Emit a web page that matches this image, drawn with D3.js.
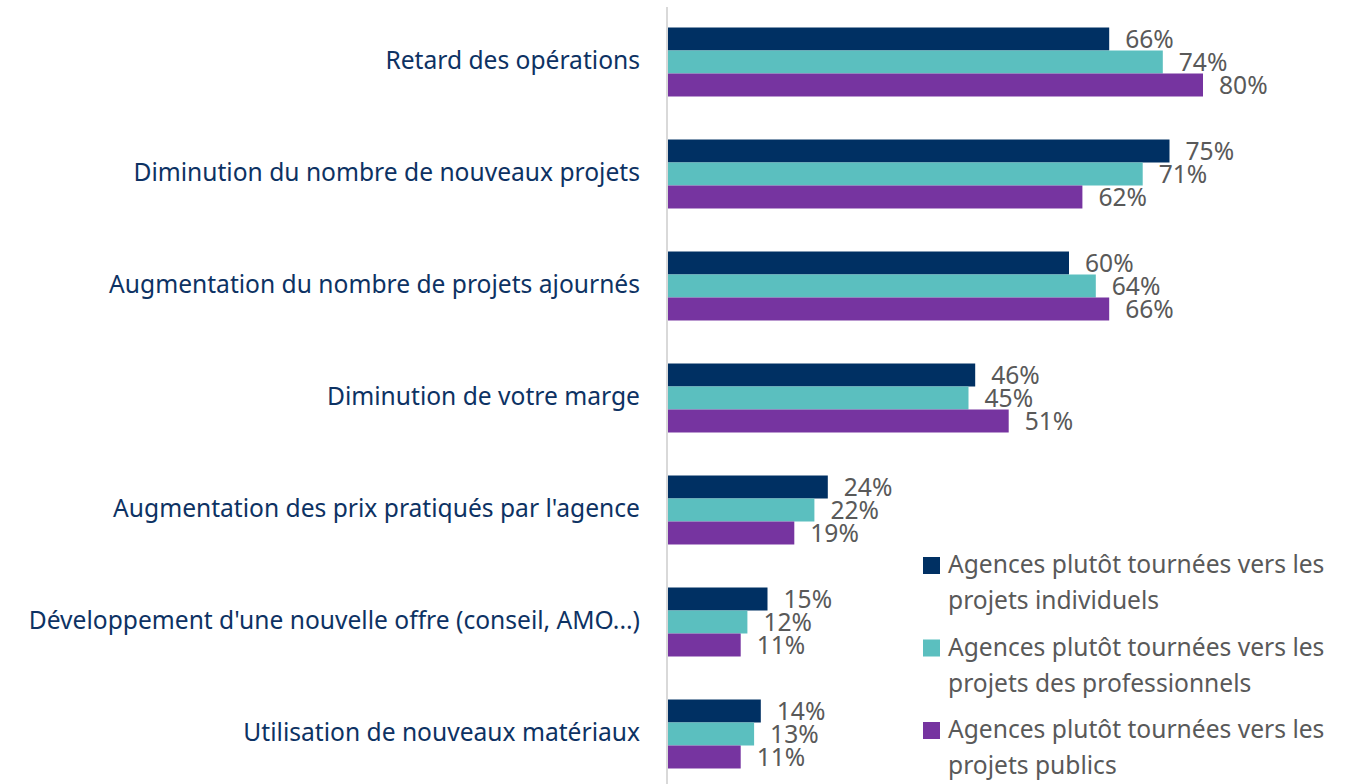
<!DOCTYPE html>
<html>
<head>
<meta charset="utf-8">
<script src="https://cdn.jsdelivr.net/npm/d3@7"></script>
<style>
  body { margin: 0; background: #fff; }
  text { font-family: "Noto Sans", "Open Sans", sans-serif; }
</style>
</head>
<body>
<svg id="chart" width="1353" height="784"></svg>
<script>
var categories = [
  "Retard des opérations",
  "Diminution du nombre de nouveaux projets",
  "Augmentation du nombre de projets ajournés",
  "Diminution de votre marge",
  "Augmentation des prix pratiqués par l'agence",
  "Développement d'une nouvelle offre (conseil, AMO...)",
  "Utilisation de nouveaux matériaux"
];
var seriesNames = [
  ["Agences plutôt tournées vers les", "projets individuels"],
  ["Agences plutôt tournées vers les", "projets des professionnels"],
  ["Agences plutôt tournées vers les", "projets publics"]
];
var individuels = [66, 75, 60, 46, 24, 15, 14];
var professionnels = [74, 71, 64, 45, 22, 12, 13];
var publics = [80, 62, 66, 51, 19, 11, 11];
var colors = ["#003063", "#5bbfbf", "#7634a0"];

var series = [individuels, professionnels, publics];

var svg = d3.select("#chart");
var axisX = 667;

// scales
var x = d3.scaleLinear().domain([0, 100]).range([axisX, axisX + 670]);
var y = d3.scaleBand()
  .domain(categories)
  .range([6, 790])
  .paddingInner(0.384)
  .paddingOuter(0.192);
var ySub = d3.scaleBand()
  .domain([0, 1, 2])
  .range([0, y.bandwidth()]);

// category labels
svg.append("g")
  .selectAll("text")
  .data(categories)
  .enter()
  .append("text")
    .attr("x", axisX - 27)
    .attr("y", function(d) { return y(d) + y.bandwidth() / 2; })
    .attr("dy", "0.3em")
    .attr("text-anchor", "end")
    .style("font-size", "24.6px")
    .style("fill", "#0d3263")
    .text(function(d) { return d; });

// bars
var groups = svg.append("g")
  .selectAll("g")
  .data(series)
  .enter()
  .append("g")
    .attr("fill", function(d, i) { return colors[i]; });

groups.each(function(vals, si) {
  var g = d3.select(this);
  g.selectAll("rect")
    .data(vals)
    .enter()
    .append("rect")
      .attr("x", x(0))
      .attr("y", function(d, i) { return y(categories[i]) + ySub(si); })
      .attr("width", function(d) { return x(d) - x(0); })
      .attr("height", ySub.bandwidth());
  g.selectAll("text")
    .data(vals)
    .enter()
    .append("text")
      .attr("x", function(d) { return x(d) + 16; })
      .attr("y", function(d, i) { return y(categories[i]) + ySub(si) + ySub.bandwidth() / 2; })
      .attr("dy", "0.36em")
      .style("font-size", "24.6px")
      .style("fill", "#595959")
      .text(function(d) { return d + "%"; });
});

// axis line
svg.append("line")
  .attr("x1", axisX).attr("x2", axisX)
  .attr("y1", 7).attr("y2", 784)
  .attr("stroke", "#d9d9d9")
  .attr("stroke-width", 2);

// legend
var legend = svg.append("g")
  .selectAll("g")
  .data(seriesNames)
  .enter()
  .append("g")
    .attr("transform", function(d, i) { return "translate(923," + (557 + i * 82.5) + ")"; });

legend.append("rect")
  .attr("width", 17)
  .attr("height", 17)
  .attr("fill", function(d, i) { return colors[i]; });

legend.each(function(lines) {
  var t = d3.select(this).append("text")
    .attr("x", 25)
    .attr("y", 16)
    .style("font-size", "24.6px")
    .style("fill", "#595959");
  lines.forEach(function(line, k) {
    t.append("tspan")
      .attr("x", 25)
      .attr("dy", k === 0 ? 0 : "36px")
      .text(line);
  });
});
</script>
</body>
</html>
